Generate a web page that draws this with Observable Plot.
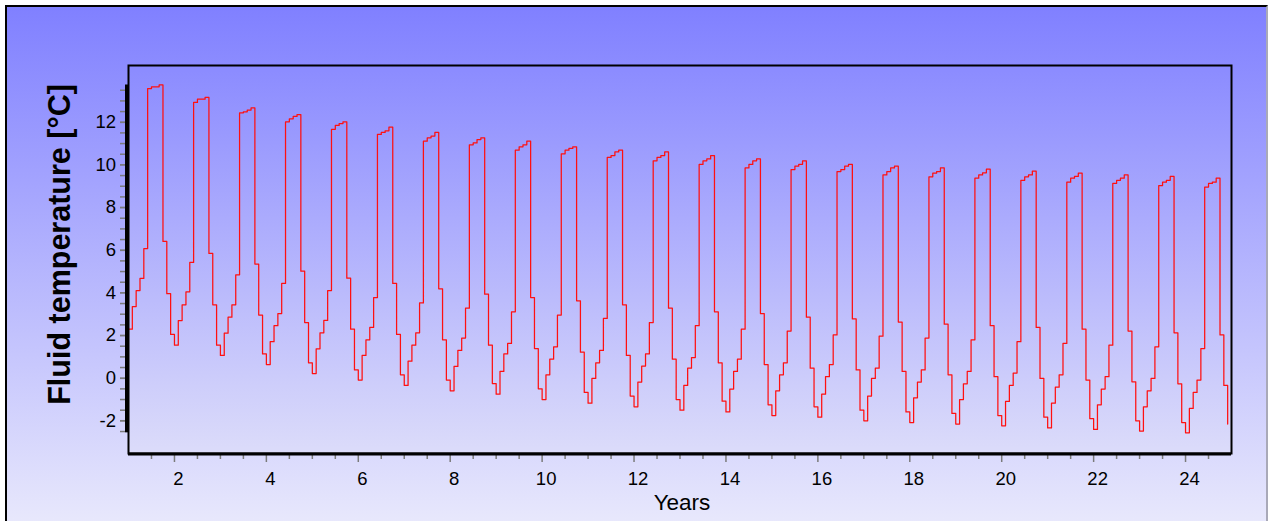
<!DOCTYPE html>
<html><head><meta charset="utf-8">
<script src="https://cdn.jsdelivr.net/npm/d3@7"></script>
<script src="https://cdn.jsdelivr.net/npm/@observablehq/plot@0.6"></script>
<style>
html,body{margin:0;padding:0;background:#fff;width:1272px;height:521px;overflow:hidden;}
#bg{position:absolute;left:5px;top:5px;width:1259px;height:530px;border-left:2px solid #000;border-top:2px solid #000;border-right:2px solid #a9a9b8;background:linear-gradient(to bottom,#8080ff 0px,#e8e8fc 516px);}
#chart{position:absolute;left:0;top:0;}
</style></head><body><div id="bg"></div><div id="chart"></div>
<script>
// Monthly fluid temperature (°C), 12 steps per year starting at year 1
const startYear = 1;
const stepsPerYear = 12;
const fluidTemp = [
  2.30, 3.36, 4.11, 4.68, 6.08, 13.58, 13.66, 13.66, 13.75, 6.41, 3.96, 2.05,
  1.55, 2.70, 3.44, 4.05, 5.43, 12.93, 13.08, 13.08, 13.17, 5.85, 3.44, 1.55,
  1.07, 2.11, 2.86, 3.44, 4.85, 12.44, 12.49, 12.57, 12.67, 5.35, 2.96, 1.14,
  0.64, 1.71, 2.46, 3.03, 4.44, 12.02, 12.16, 12.27, 12.36, 5.02, 2.61, 0.72,
  0.22, 1.38, 2.13, 2.71, 4.11, 11.67, 11.85, 11.94, 12.02, 4.69, 2.30, 0.39,
  -0.09, 1.07, 1.80, 2.38, 3.78, 11.43, 11.52, 11.60, 11.77, 4.44, 2.05, 0.16,
  -0.34, 0.80, 1.55, 2.13, 3.53, 11.11, 11.27, 11.35, 11.52, 4.19, 1.80, -0.09,
  -0.59, 0.55, 1.30, 1.88, 3.28, 10.94, 11.03, 11.19, 11.27, 3.94, 1.55, -0.25,
  -0.75, 0.32, 1.14, 1.63, 3.11, 10.69, 10.85, 10.94, 11.11, 3.78, 1.39, -0.50,
  -1.00, 0.16, 0.89, 1.47, 2.96, 10.52, 10.69, 10.77, 10.85, 3.63, 1.22, -0.67,
  -1.17, -0.01, 0.72, 1.30, 2.80, 10.35, 10.44, 10.61, 10.69, 3.44, 1.07, -0.84,
  -1.34, -0.18, 0.57, 1.14, 2.61, 10.19, 10.35, 10.44, 10.61, 3.28, 0.89, -1.00,
  -1.50, -0.34, 0.47, 0.97, 2.46, 10.02, 10.19, 10.28, 10.44, 3.11, 0.72, -1.08,
  -1.58, -0.51, 0.32, 0.89, 2.30, 9.86, 10.02, 10.19, 10.28, 3.03, 0.64, -1.25,
  -1.75, -0.59, 0.16, 0.72, 2.21, 9.78, 9.94, 10.03, 10.19, 2.86, 0.47, -1.34,
  -1.83, -0.75, 0.07, 0.64, 2.03, 9.69, 9.78, 9.94, 10.03, 2.78, 0.39, -1.50,
  -2.00, -0.84, -0.01, 0.47, 1.97, 9.53, 9.69, 9.86, 9.94, 2.63, 0.32, -1.58,
  -2.08, -0.92, -0.18, 0.39, 1.88, 9.44, 9.61, 9.69, 9.86, 2.53, 0.16, -1.65,
  -2.15, -1.00, -0.26, 0.32, 1.80, 9.38, 9.53, 9.63, 9.80, 2.46, 0.07, -1.75,
  -2.23, -1.09, -0.34, 0.24, 1.71, 9.28, 9.44, 9.53, 9.71, 2.38, -0.01, -1.83,
  -2.33, -1.17, -0.42, 0.16, 1.63, 9.19, 9.38, 9.46, 9.61, 2.30, -0.09, -1.90,
  -2.40, -1.25, -0.51, 0.07, 1.55, 9.13, 9.28, 9.38, 9.53, 2.21, -0.17, -2.00,
  -2.48, -1.34, -0.59, -0.01, 1.47, 9.03, 9.19, 9.28, 9.46, 2.13, -0.26, -2.08,
  -2.56, -1.42, -0.67, -0.09, 1.39, 8.96, 9.13, 9.19, 9.38, 2.03, -0.34, -2.15
];
const xDomain = [1, 25];
const yDomain = [-3.53, 14.66];
const xMajorTicks = [2, 4, 6, 8, 10, 12, 14, 16, 18, 20, 22, 24];
const xMinorTicks = d3.range(1.5, 24.51, 0.5).filter(v => v % 2 !== 0);
const yMajorTicks = [-2, 0, 2, 4, 6, 8, 10, 12];
const yMinorTicks = d3.range(-2.5, 13.51, 0.5).filter(v => v % 2 !== 0);
const xTitle = "Years";
const yTitle = "Fluid temperature [°C]";

const data = fluidTemp.map((v, i) => ({t: startYear + i / stepsPerYear, v}));
const span = [{x: xDomain[0], lo: d3.min(fluidTemp), hi: d3.max(fluidTemp)}];
const tickColor = "#7b7b7b";

const svg = Plot.plot({
  width: 1272, height: 521,
  marginLeft: 128, marginRight: 41, marginTop: 65, marginBottom: 68,
  x: {domain: xDomain, axis: null},
  y: {domain: yDomain, axis: null},
  style: {background: "transparent", fontFamily: "'Liberation Sans', Arial, sans-serif", overflow: "visible", color: "black"},
  marks: [
    Plot.frame({fill: "url(#innerGrad)", stroke: null}),
    Plot.axisX({ticks: xMinorTicks, tickSize: 6, tickFormat: () => "", stroke: tickColor, strokeWidth: 1.5, strokeOpacity: 1, label: null}),
    Plot.axisX({ticks: xMajorTicks, tickSize: 9, tickFormat: () => "", stroke: tickColor, strokeWidth: 1.5, strokeOpacity: 1, label: null}),
    Plot.axisY({ticks: yMinorTicks, tickSize: 8, tickFormat: () => "", stroke: tickColor, strokeWidth: 1.5, strokeOpacity: 1, label: null}),
    Plot.axisY({ticks: yMajorTicks, tickSize: 8, tickFormat: () => "", stroke: tickColor, strokeWidth: 1.8, strokeOpacity: 1, label: null}),
    Plot.text(xMajorTicks, {x: d => d, text: d => String(d), frameAnchor: "bottom", lineAnchor: "top", dy: 18.5, dx: 4, fontSize: 18.5, fill: "black"}),
    Plot.text(yMajorTicks, {y: d => d, text: d => String(d), frameAnchor: "left", lineAnchor: "middle", dx: -12.5, textAnchor: "end", fontSize: 18.5, fill: "black"}),
    Plot.line(data, {x: "t", y: "v", curve: "step-after", stroke: "#ff1010", strokeWidth: 1.25}),
    Plot.frame({stroke: "black", strokeWidth: 2}),
    Plot.ruleY([yDomain[0]], {stroke: "black", strokeWidth: 3, dy: 0.5}),
    Plot.ruleX(span, {x: "x", y1: "lo", y2: "hi", stroke: "black", strokeWidth: 4, dx: -1.5}),
    Plot.text([yTitle], {text: d => d, frameAnchor: "left", textAnchor: "middle", lineAnchor: "middle", rotate: -90, dx: -68, dy: -15, fontSize: 30.5, fontWeight: "bold", fill: "black"}),
    Plot.text([xTitle], {text: d => d, frameAnchor: "bottom", textAnchor: "middle", lineAnchor: "middle", dy: 49, dx: 2, fontSize: 22.5, fill: "black"})
  ]
});

const defs = d3.create("svg:defs");
const g = defs.append("linearGradient").attr("id", "innerGrad").attr("x1", 0).attr("y1", 0).attr("x2", 0).attr("y2", 1);
g.append("stop").attr("offset", "0%").attr("stop-color", "#8b8bff");
g.append("stop").attr("offset", "100%").attr("stop-color", "#dcdcfa");
svg.insertBefore(defs.node(), svg.firstChild);
document.getElementById("chart").appendChild(svg);
</script>
</body></html>
